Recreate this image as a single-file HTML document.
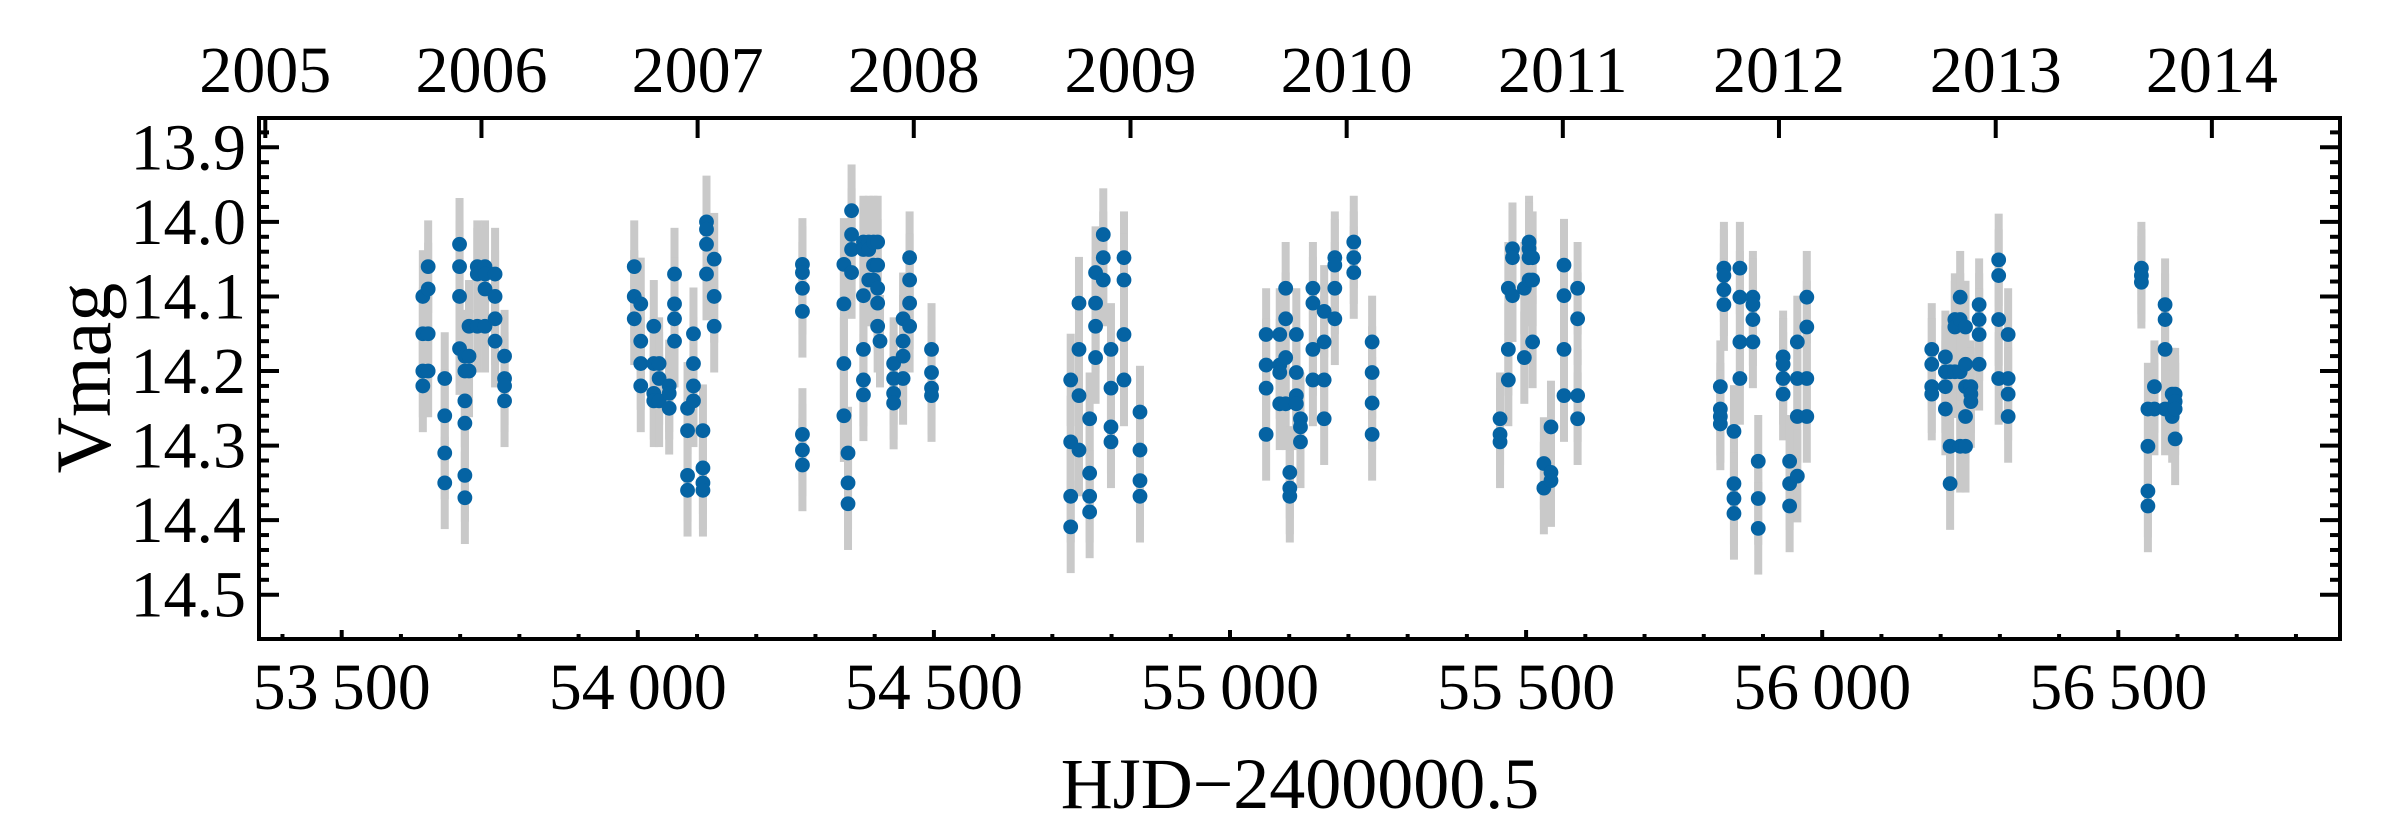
<!DOCTYPE html>
<html><head><meta charset="utf-8"><style>
html,body{margin:0;padding:0;background:#fff;}
svg{display:block;font-family:"Liberation Serif",serif;}
</style></head><body>
<svg id="chart" width="2400" height="840" viewBox="0 0 2400 840" xmlns="http://www.w3.org/2000/svg">
<g id="errs"></g>
<g id="pts"></g>
<g id="axes"></g>
<text x="1300" y="808" font-size="72" text-anchor="middle">HJD−2400000.5</text>
<text transform="translate(110,378) rotate(-90)" font-size="78" text-anchor="middle">Vmag</text>
</svg>
<script>
const nightMJD = [53637,53646,53674,53699,53708,53715,53729,53742,53759,53775,
53994,54005,54027,54036,54053,54062,54084,54094,54110,54116,54129,
54278,54348,54355,54361,54381,54390,54398,54405,54409,54432,54448,54459,54496,
54731,54745,54763,54773,54786,54799,54821,54848,
55061,55084,55094,55101,55112,55119,55140,55159,55177,55209,55240,
55456,55470,55477,55497,55505,55511,55530,55542,55564,55587,
55828,55834,55851,55861,55883,55892,55934,55945,55958,55974,
56185,56208,56216,56224,56233,56242,56251,56265,56298,56314,
56539,56550,56561,56579,56591,56596];
const nightMags = [
[14.10,14.15,14.20,14.22],[14.06,14.09,14.15,14.20],[14.21,14.26,14.31,14.35],[14.03,14.06,14.10,14.17],
[14.18,14.20,14.24,14.27,14.34,14.37],[14.14,14.18,14.20],[14.06,14.07,14.14],[14.06,14.07,14.09,14.14],
[14.07,14.10,14.13,14.16],[14.18,14.21,14.22,14.24],
[14.06,14.10,14.13],[14.11,14.16,14.19,14.22],[14.14,14.19,14.23,14.24],[14.19,14.21,14.24],
[14.22,14.23,14.25],[14.07,14.11,14.13,14.16],[14.25,14.28,14.34,14.36],[14.15,14.19,14.22,14.24],
[14.28,14.33,14.35,14.36],[14.00,14.01,14.03,14.07],[14.05,14.10,14.14],
[14.057,14.068,14.089,14.12,14.285,14.306,14.326],[14.057,14.11,14.19,14.26],[14.31,14.35,14.378],
[13.985,14.017,14.037,14.068],[14.027,14.037,14.099,14.171,14.212,14.232],[14.027,14.037,14.078],
[14.027,14.078,14.058],[14.027,14.058,14.089,14.109,14.14],[14.16],
[14.19,14.21,14.23,14.243],[14.13,14.16,14.18,14.21],[14.048,14.078,14.109,14.14],[14.171,14.202,14.223,14.233],
[14.212,14.295,14.368,14.409],[14.109,14.171,14.233,14.306],[14.264,14.337,14.368,14.389],[14.068,14.109,14.14,14.182],
[14.017,14.048,14.078],[14.171,14.223,14.275,14.295],[14.048,14.078,14.151,14.212],[14.255,14.306,14.347,14.368],
[14.151,14.192,14.223,14.285],[14.151,14.192,14.202,14.244],[14.089,14.13,14.182,14.244],[14.336,14.357,14.368],
[14.151,14.202,14.233,14.244],[14.264,14.275,14.295],[14.089,14.109,14.171,14.212],[14.12,14.161,14.212,14.264],
[14.048,14.058,14.089,14.13],[14.027,14.048,14.068],[14.161,14.202,14.243,14.285],
[14.264,14.285,14.295],[14.089,14.171,14.212],[14.036,14.048,14.099],[14.089,14.182],[14.027,14.036,14.048,14.078],
[14.048,14.078,14.161],[14.324,14.357],[14.275,14.336,14.347],[14.058,14.099,14.171,14.233],[14.089,14.13,14.233,14.264],
[14.221,14.251,14.261,14.271],[14.062,14.072,14.091,14.111],[14.281,14.351,14.371,14.391],[14.062,14.101,14.161,14.21],
[14.101,14.111,14.131,14.161],[14.321,14.371,14.411],[14.181,14.191,14.21,14.231],[14.321,14.351,14.381],
[14.161,14.21,14.261,14.341],[14.101,14.141,14.21,14.261],
[14.171,14.191,14.221,14.231],[14.181,14.201,14.221,14.251],[14.201,14.301,14.351],[14.131,14.141,14.201],
[14.101,14.131,14.201,14.301],[14.141,14.191,14.221,14.261,14.301],[14.221,14.231,14.241],[14.111,14.131,14.151,14.191],
[14.051,14.072,14.131,14.21],[14.151,14.21,14.231,14.261],
[14.062,14.072,14.081],[14.251,14.301,14.361,14.381],[14.221,14.251],[14.111,14.131,14.171,14.251],
[14.231,14.261],[14.231,14.241,14.251,14.291]];
const magErr = 0.062;
const xTicks = [53500,54000,54500,55000,55500,56000,56500];
const xTickLabels = ["53\u2009500","54\u2009000","54\u2009500","55\u2009000","55\u2009500","56\u2009000","56\u2009500"];
const yTicks = [13.9,14.0,14.1,14.2,14.3,14.4,14.5];
const yTickLabels = ["13.9","14.0","14.1","14.2","14.3","14.4","14.5"];
const years = [2005,2006,2007,2008,2009,2010,2011,2012,2013,2014];
const yearMJD = [53371,53736,54101,54466,54832,55197,55562,55927,56293,56658];

const L=259, R=2340, T=118, B=639;
const X = m => 341.7 + (m-53500)*0.5922;
const Y = v => 147.3 + (v-13.9)*745.7;
const NS="http://www.w3.org/2000/svg";
function mk(tag, attrs, parent){const e=document.createElementNS(NS,tag);for(const k in attrs)e.setAttribute(k,attrs[k]);parent.appendChild(e);return e;}
const errs=document.getElementById('errs'), pts=document.getElementById('pts'), ax=document.getElementById('axes');

nightMJD.forEach((m,i)=>{
  nightMags[i].forEach(v=>{
    const r=mk('rect',{x:X(m)-4,y:Y(v-magErr),width:8,height:Y(v+magErr)-Y(v-magErr),fill:'#c9c9c9'},errs);
    
    
  });
});
nightMJD.forEach((m,i)=>{
  nightMags[i].forEach(v=>{
    const c=mk('circle',{cx:X(m),cy:Y(v),r:7.4,fill:'#0563a3'},pts);
    
    
  });
});

const fr=mk('rect',{x:L,y:T,width:R-L,height:B-T,fill:'none',stroke:'#000','stroke-width':4},ax);


for(let m=53400;m<=56800;m+=100){
  const x=X(m); if(x<=L||x>=R) continue;
  const major = m%500===0;
  mk('line',{x1:x,x2:x,y1:B,y2:B-(major?9:5),stroke:'#000','stroke-width':4},ax);
}
xTicks.forEach((m,i)=>{
  const t=mk('text',{x:X(m),y:709,'font-size':66,'text-anchor':'middle'},ax);
  t.textContent=xTickLabels[i];
  
  
});
for(let k=0;k<=32;k++){
  const v=13.86+k*0.02; const y=Y(v); if(y<=T+2||y>=B-2) continue;
  const major=Math.abs(Math.round(v*10)-v*10)<1e-6;
  const len=major?20:10;
  mk('line',{x1:L,x2:L+len,y1:y,y2:y,stroke:'#000','stroke-width':4},ax);
  mk('line',{x1:R,x2:R-len,y1:y,y2:y,stroke:'#000','stroke-width':4},ax);
}
yTicks.forEach((v,i)=>{
  const t=mk('text',{x:246,y:Y(v)+22,'font-size':66,'text-anchor':'end'},ax);
  t.textContent=yTickLabels[i];
  
  
});
years.forEach((yr,i)=>{
  const x=X(yearMJD[i]);
  if(x>L+5 && x<R-5) mk('line',{x1:x,x2:x,y1:T,y2:T+20,stroke:'#000','stroke-width':4},ax);
  const t=mk('text',{x:x,y:92,'font-size':66,'text-anchor':'middle'},ax);
  t.textContent=String(yr);
  
  
});
</script>
</body></html>
